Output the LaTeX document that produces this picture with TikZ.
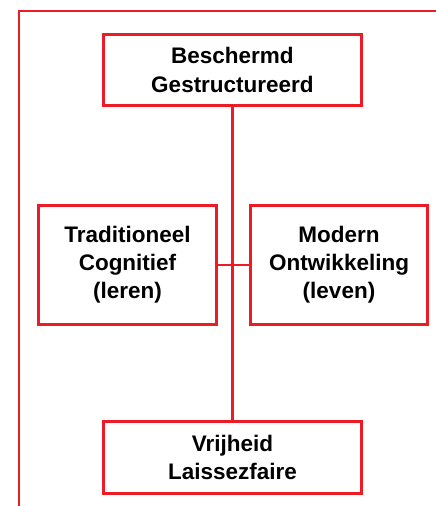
\documentclass[tikz,border=0pt]{standalone}
\usepackage{fontspec}
\setmainfont{Liberation Sans}
\definecolor{boxred}{HTML}{ED1C24}

\begin{document}
\begin{tikzpicture}[line width=1.7pt, every node/.style={font=\bfseries\fontsize{12.8}{16}\selectfont, align=center}]
\tikzset{kader/.style={draw=boxred, inner sep=0pt, minimum width=#1, minimum height=1.43cm}}
\useasboundingbox (0,0) rectangle (8.72,10.12);
\draw[boxred] (0.38,0) -- (0.38,9.9) -- (8.72,9.9);

\node (bg) at (4.65,8.72) [kader=5.16cm] {Beschermd\\Gestructureerd};
\node (vl) at (4.65,0.97) [kader=5.16cm] {Vrijheid\\Laissezfaire};
\node (tc) at (2.55,4.82) [kader=3.55cm, minimum height=2.37cm] {Traditioneel\\Cognitief\\(leren)};
\node (mo) at (6.78,4.82) [kader=3.55cm, minimum height=2.37cm] {Modern\\Ontwikkeling\\(leven)};

\draw[boxred] (bg) -- (vl);
\draw[boxred] (tc) -- (mo);
\end{tikzpicture}
\end{document}
